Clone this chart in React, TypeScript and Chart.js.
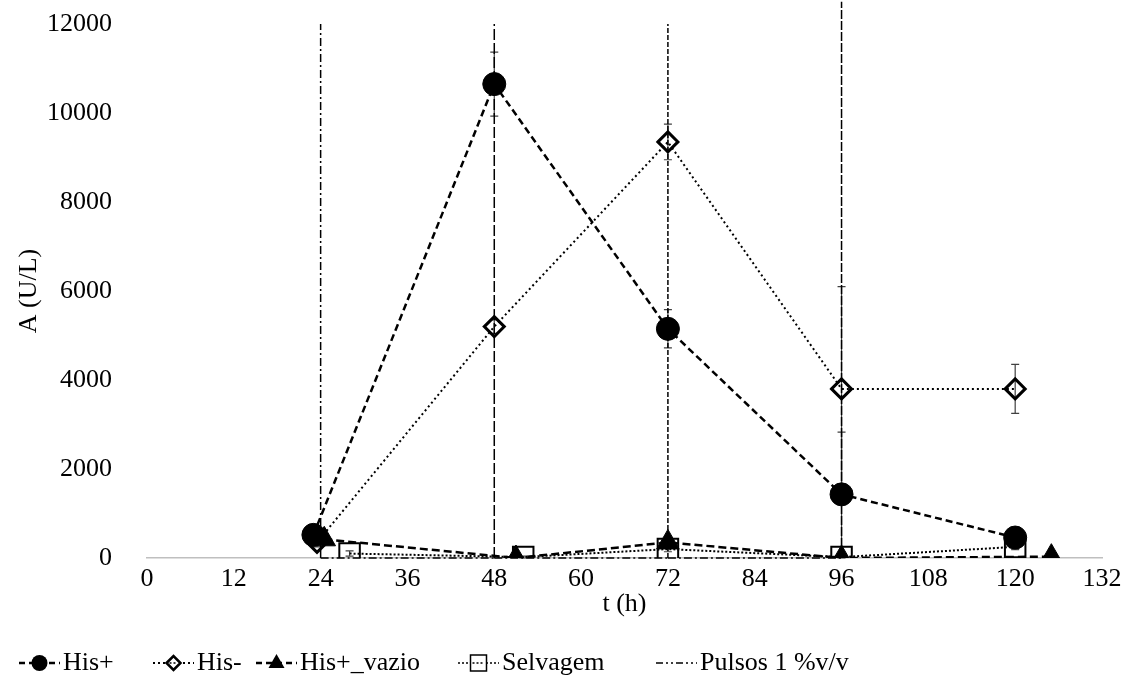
import React, { useEffect, useRef } from "react";
import { Chart, registerables } from "chart.js";

Chart.register(...registerables);

// Sampling times (h) and activity A (U/L) for each strain
const hisPlusT = [23, 48, 72, 96, 120];
const hisPlusA = [520, 10650, 5150, 1430, 460];
const hisPlusErr = [150, 720, 430, 1400, 150];

const hisMinusT = [23.5, 48, 72, 96, 120];
const hisMinusA = [350, 5200, 9350, 3800, 3800];
const hisMinusErr = [100, 150, 400, 2300, 550];

const vazioT = [24.5, 51, 72, 96, 125];
const vazioA = [420, 0, 350, 0, 30];

const selvagemT = [28, 52, 72, 96, 120];
const selvagemA = [100, 20, 200, 20, 250];
const selvagemErr = [60, 20, 60, 20, 60];

// Feeding pulses: one vertical trace per pulse time, drawn up and back down
const pulsoT = [24, 24, 24, 48, 48, 48, 72, 72, 72, 96, 96, 96];
const pulsoA = [0, 12000, 0, 0, 12000, 0, 0, 12000, 0, 0, 12500, 0];

const xMin = 0;
const xMax = 132;
const xStep = 12;
const yMin = 0;
const yMax = 12000;
const yStep = 2000;

const FONT = "'Liberation Serif', 'Times New Roman', serif";
const FS = 26;

const pts = (xs: number[], ys: number[]) => xs.map((x, i) => ({ x, y: ys[i] }));

// dash pattern of the upward stroke at each pulse time
const pulseDash: { [t: number]: number[] } = {
  24: [8, 3, 2, 3],
  48: [11, 3],
  72: [5, 2],
  96: [9, 2],
};

const errorSets: { [k: number]: number[] } = {
  0: hisPlusErr,
  1: hisMinusErr,
  3: selvagemErr,
};

const errorBarPlugin = {
  id: "errorBars",
  beforeDatasetsDraw(chart: any) {
    const ctx = chart.ctx;
    const xs = chart.scales.x;
    const ys = chart.scales.y;
    ctx.save();
    ctx.strokeStyle = "#404040";
    ctx.lineWidth = 1.2;
    ctx.setLineDash([]);
    Object.keys(errorSets).forEach((k) => {
      const di = Number(k);
      const errs = errorSets[di];
      const data = chart.data.datasets[di].data as { x: number; y: number }[];
      data.forEach((p, i) => {
        const e = errs[i];
        const px = xs.getPixelForValue(p.x);
        const top = ys.getPixelForValue(p.y + e);
        const bot = ys.getPixelForValue(Math.max(p.y - e, yMin));
        ctx.beginPath();
        ctx.moveTo(px, top);
        ctx.lineTo(px, bot);
        ctx.moveTo(px - 4, top);
        ctx.lineTo(px + 4, top);
        ctx.moveTo(px - 4, bot);
        ctx.lineTo(px + 4, bot);
        ctx.stroke();
      });
    });
    ctx.restore();
  },
};

type LegendEntry = {
  text: string;
  textX: number;
  marker: "circle" | "diamond" | "triangle" | "square" | "none";
  dash: number[];
  width: number;
};

const legendEntries: LegendEntry[] = [
  { text: "His+", textX: 63, marker: "circle", dash: [6, 4], width: 2.5 },
  { text: "His-", textX: 197, marker: "diamond", dash: [2, 3], width: 2 },
  { text: "His+_vazio", textX: 300, marker: "triangle", dash: [6, 4], width: 2.5 },
  { text: "Selvagem", textX: 502, marker: "square", dash: [2, 2], width: 1.5 },
  { text: "Pulsos 1 %v/v", textX: 700, marker: "none", dash: [7, 3, 2, 3, 2, 3], width: 1.5 },
];

const legendPlugin = {
  id: "bottomLegend",
  afterDraw(chart: any) {
    const ctx = chart.ctx;
    const y = 663;
    ctx.save();
    legendEntries.forEach((it) => {
      const x0 = it.textX - 44;
      const x1 = it.textX - 3;
      const cx = (x0 + x1) / 2;
      ctx.strokeStyle = "#000";
      ctx.lineWidth = it.width;
      ctx.setLineDash(it.dash);
      ctx.beginPath();
      ctx.moveTo(x0, y);
      ctx.lineTo(x1, y);
      ctx.stroke();
      ctx.setLineDash([]);
      ctx.fillStyle = "#000";
      if (it.marker === "circle") {
        ctx.beginPath();
        ctx.arc(cx, y, 8, 0, Math.PI * 2);
        ctx.fill();
      } else if (it.marker === "diamond") {
        ctx.fillStyle = "#fff";
        ctx.lineWidth = 2.5;
        ctx.beginPath();
        ctx.moveTo(cx - 7, y);
        ctx.lineTo(cx, y - 7);
        ctx.lineTo(cx + 7, y);
        ctx.lineTo(cx, y + 7);
        ctx.closePath();
        ctx.fill();
        ctx.stroke();
        ctx.setLineDash([2, 2]);
        ctx.lineWidth = 1.5;
        ctx.beginPath();
        ctx.moveTo(cx - 4, y);
        ctx.lineTo(cx + 4, y);
        ctx.stroke();
      } else if (it.marker === "triangle") {
        ctx.beginPath();
        ctx.moveTo(cx, y - 9);
        ctx.lineTo(cx + 8, y + 5);
        ctx.lineTo(cx - 8, y + 5);
        ctx.closePath();
        ctx.fill();
      } else if (it.marker === "square") {
        ctx.fillStyle = "#fff";
        ctx.lineWidth = 1.5;
        ctx.beginPath();
        ctx.rect(cx - 8, y - 8, 16, 16);
        ctx.fill();
        ctx.stroke();
        ctx.setLineDash([2, 2]);
        ctx.beginPath();
        ctx.moveTo(cx - 6, y);
        ctx.lineTo(cx + 6, y);
        ctx.stroke();
      }
      ctx.setLineDash([]);
      ctx.fillStyle = "#000";
      ctx.font = `${FS}px ${FONT}`;
      ctx.textBaseline = "middle";
      ctx.textAlign = "left";
      ctx.fillText(it.text, it.textX, y);
    });
    ctx.restore();
  },
};

export default function App() {
  const ref = useRef<HTMLCanvasElement>(null);

  useEffect(() => {
    if (!ref.current) return;
    const chart = new Chart(ref.current, {
      type: "scatter",
      data: {
        datasets: [
          {
            label: "His+",
            data: pts(hisPlusT, hisPlusA),
            showLine: true,
            borderColor: "#000",
            borderWidth: 2.5,
            borderDash: [7, 4],
            pointStyle: "circle",
            pointRadius: 11.5,
            pointBackgroundColor: "#000",
            pointBorderColor: "#000",
            pointBorderWidth: 1,
          },
          {
            label: "His-",
            data: pts(hisMinusT, hisMinusA),
            showLine: true,
            borderColor: "#000",
            borderWidth: 2,
            borderDash: [2, 3],
            pointStyle: "rectRot",
            pointRadius: 10,
            pointBackgroundColor: "rgba(255,255,255,0)",
            pointBorderColor: "#000",
            pointBorderWidth: 3,
          },
          {
            label: "His+_vazio",
            data: pts(vazioT, vazioA),
            showLine: true,
            borderColor: "#000",
            borderWidth: 2.5,
            borderDash: [8, 4],
            pointStyle: "triangle",
            pointRadius: 13,
            pointBackgroundColor: "#000",
            pointBorderColor: "#000",
            pointBorderWidth: 1,
          },
          {
            label: "Selvagem",
            data: pts(selvagemT, selvagemA),
            showLine: true,
            borderColor: "#000",
            borderWidth: 2,
            borderDash: [2, 2],
            pointStyle: "rect",
            pointRadius: 14.5,
            pointBackgroundColor: "rgba(255,255,255,0)",
            pointBorderColor: "#000",
            pointBorderWidth: 2,
          },
          {
            label: "Pulsos 1 %v/v",
            data: pts(pulsoT, pulsoA),
            showLine: true,
            borderColor: "#000",
            borderWidth: 1.5,
            borderDash: [8, 3, 2, 3],
            pointRadius: 0,
            clip: false as any,
            segment: {
              borderDash: (c: any) => {
                const i0 = c.p0DataIndex;
                const i1 = c.p1DataIndex;
                if (pulsoT[i0] === pulsoT[i1] && pulsoA[i1] > pulsoA[i0]) {
                  return pulseDash[pulsoT[i0]] || [8, 3, 2, 3];
                }
                return [8, 3, 2, 3];
              },
              borderColor: (c: any) => {
                const i0 = c.p0DataIndex;
                const i1 = c.p1DataIndex;
                // return strokes retrace the pulse line; keep only one pass visible
                if (pulsoT[i0] === pulsoT[i1] && pulsoA[i1] < pulsoA[i0]) {
                  return "rgba(0,0,0,0)";
                }
                return "#000";
              },
            },
          },
        ],
      },
      options: {
        responsive: false,
        animation: false,
        events: [],
        layout: { padding: { left: 0, right: 31, top: 24, bottom: 64 } },
        plugins: {
          legend: { display: false },
          tooltip: { enabled: false },
        },
        elements: { line: { tension: 0 } },
        scales: {
          x: {
            type: "linear",
            min: xMin,
            max: xMax,
            grid: { display: false, drawTicks: false },
            border: { display: true, color: "#bfbfbf", width: 1.5 },
            ticks: {
              stepSize: xStep,
              color: "#000",
              padding: 6,
              maxRotation: 0,
              font: { family: FONT, size: FS },
              callback: (v: any) => String(v),
            },
            title: {
              display: true,
              text: "t (h)",
              color: "#000",
              padding: 0,
              font: { family: FONT, size: FS },
            },
            afterFit: (s: any) => {
              s.height = 62;
            },
          },
          y: {
            type: "linear",
            min: yMin,
            max: yMax,
            grid: { display: false, drawTicks: false },
            border: { display: false },
            ticks: {
              stepSize: yStep,
              color: "#000",
              padding: 35,
              font: { family: FONT, size: FS },
              callback: (v: any) => String(v),
            },
            title: {
              display: true,
              text: "A (U/L)",
              color: "#000",
              padding: { top: 14, bottom: 0 },
              font: { family: FONT, size: FS },
            },
            afterFit: (s: any) => {
              s.width = 147;
              s.paddingTop = 0;
              s.paddingBottom = 0;
            },
          },
        },
      },
      plugins: [errorBarPlugin, legendPlugin],
    } as any);
    return () => chart.destroy();
  }, []);

  return (
    <div
      style={{
        position: "fixed",
        left: 0,
        top: 0,
        width: 1133,
        height: 684,
        background: "#fff",
      }}
    >
      <canvas ref={ref} width={1133} height={684} style={{ display: "block" }} />
    </div>
  );
}
